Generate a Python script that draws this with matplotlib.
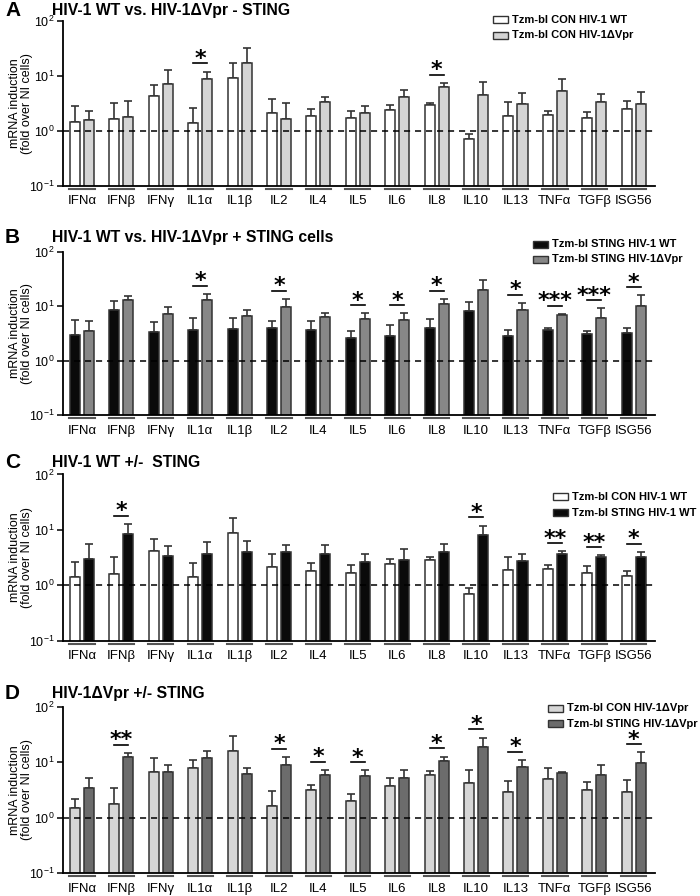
import numpy as np
import matplotlib.pyplot as plt
import matplotlib.transforms as mtransforms
from matplotlib.patches import Rectangle
from matplotlib.ticker import LogLocator, NullLocator

plt.rcParams['font.family'] = ['Liberation Sans Narrow', 'Liberation Sans', 'DejaVu Sans']
plt.rcParams['mathtext.default'] = 'regular'

genes = ['IFNα', 'IFNβ', 'IFNγ', 'IL1α', 'IL1β', 'IL2', 'IL4', 'IL5', 'IL6',
         'IL8', 'IL10', 'IL13', 'TNFα', 'TGFβ', 'ISG56']

# A : HIV-1 WT vs dVpr in control cells
a_con_wt = [1.42, 1.6, 4.2, 1.38, 8.9, 2.1, 1.85, 1.68, 2.4, 2.89, 0.7, 1.87, 1.95, 1.68, 2.44]
a_con_wt_top = [2.77, 3.23, 6.86, 2.58, 16.7, 3.7, 2.48, 2.31, 2.97, 3.23, 0.88, 3.3, 2.3, 2.15, 3.4]
a_con_dvpr = [1.58, 1.8, 7.05, 8.6, 17.2, 1.65, 3.32, 2.1, 4.04, 6.2, 4.45, 3.1, 5.3, 3.3, 3.0]
a_con_dvpr_top = [2.28, 3.5, 12.9, 11.8, 32.3, 3.14, 4.15, 2.8, 5.56, 7.35, 7.67, 4.8, 8.6, 4.6, 5.0]
a_sig = ['', '', '', '*', '', '', '', '', '', '*', '', '', '', '', '']

# B : HIV-1 WT vs dVpr in STING cells
b_sting_wt = [2.95, 8.4, 3.3, 3.65, 3.9, 4.0, 3.6, 2.6, 2.9, 4.0, 8.2, 2.85, 3.7, 3.15, 3.25]
b_sting_wt_top = [5.5, 12.7, 5.2, 6.2, 6.2, 5.3, 5.35, 3.55, 4.45, 5.75, 12.0, 3.7, 4.05, 3.5, 4.0]
b_sting_dvpr = [3.55, 12.9, 7.1, 12.9, 6.5, 9.7, 6.25, 5.9, 5.5, 11.2, 20.4, 8.7, 6.9, 6.1, 10.2]
b_sting_dvpr_top = [5.35, 15.8, 9.7, 16.9, 8.4, 13.7, 7.6, 7.4, 7.5, 13.7, 30.3, 11.6, 7.3, 9.2, 16.0]
b_sig = ['', '', '', '*', '', '*', '', '*', '*', '*', '', '*', '***', '***', '*']

# C : HIV-1 WT +/- STING
c_con_wt = [1.43, 1.6, 4.2, 1.41, 8.7, 2.1, 1.84, 1.67, 2.4, 2.87, 0.71, 1.85, 1.97, 1.67, 1.45]
c_con_wt_top = [2.67, 3.25, 6.9, 2.57, 16.5, 3.7, 2.5, 2.3, 3.0, 3.25, 0.9, 3.3, 2.3, 2.2, 1.8]
c_sting_wt = [3.0, 8.5, 3.33, 3.7, 3.95, 4.06, 3.6, 2.6, 2.87, 4.0, 8.0, 2.8, 3.65, 3.2, 3.27]
c_sting_wt_top = [5.5, 12.8, 5.1, 6.15, 6.2, 5.3, 5.35, 3.6, 4.47, 5.66, 12.0, 3.7, 4.1, 3.5, 4.0]
c_sig = ['', '*', '', '', '', '', '', '', '', '', '*', '', '**', '**', '*']

# D : HIV-1 dVpr +/- STING
d_con_dvpr = [1.53, 1.74, 6.6, 8.0, 16.2, 1.6, 3.14, 2.02, 3.8, 5.84, 4.25, 2.95, 5.0, 3.1, 2.9]
d_con_dvpr_top = [2.2, 3.4, 11.8, 11.0, 30.0, 3.0, 3.97, 2.66, 5.2, 7.0, 7.3, 4.5, 8.0, 4.4, 4.8]
d_sting_dvpr = [3.37, 12.3, 6.8, 12.1, 6.2, 9.1, 5.84, 5.6, 5.2, 10.4, 18.6, 8.2, 6.5, 5.8, 9.7]
d_sting_dvpr_top = [5.1, 14.7, 9.1, 15.8, 7.9, 12.5, 7.2, 7.1, 7.1, 12.6, 27.7, 11.0, 6.8, 8.8, 15.0]
d_sig = ['', '**', '', '', '', '*', '*', '*', '', '*', '*', '*', '', '', '*']

W, H = 700, 896
fig = plt.figure(figsize=(7, 8.96), dpi=100)

panels = [
    dict(letter='A', title='HIV-1 WT vs. HIV-1ΔVpr - STING', top=20.7, bot=185.7, ty=10,
         s1=(a_con_wt, a_con_wt_top, 'white', 'Tzm-bl CON HIV-1 WT'),
         s2=(a_con_dvpr, a_con_dvpr_top, '#d4d4d4', 'Tzm-bl CON HIV-1ΔVpr'),
         sig=a_sig, leg=(493, 20)),
    dict(letter='B', title='HIV-1 WT vs. HIV-1ΔVpr + STING cells', top=252, bot=415, ty=237,
         s1=(b_sting_wt, b_sting_wt_top, '#0a0a0a', 'Tzm-bl STING HIV-1 WT'),
         s2=(b_sting_dvpr, b_sting_dvpr_top, '#878787', 'Tzm-bl STING HIV-1ΔVpr'),
         sig=b_sig, leg=(533, 244)),
    dict(letter='C', title='HIV-1 WT +/-  STING', top=474.5, bot=640.7, ty=462,
         s1=(c_con_wt, c_con_wt_top, 'white', 'Tzm-bl CON HIV-1 WT'),
         s2=(c_sting_wt, c_sting_wt_top, '#0a0a0a', 'Tzm-bl STING HIV-1 WT'),
         sig=c_sig, leg=(553, 497)),
    dict(letter='D', title='HIV-1ΔVpr +/- STING', top=706.7, bot=873.3, ty=693,
         s1=(d_con_dvpr, d_con_dvpr_top, '#d6d6d6', 'Tzm-bl CON HIV-1ΔVpr'),
         s2=(d_sting_dvpr, d_sting_dvpr_top, '#6c6c6c', 'Tzm-bl STING HIV-1ΔVpr'),
         sig=d_sig, leg=(548, 708)),
]

x = np.arange(len(genes))
off, bw = 0.178, 0.255
edge = '#333333'

for p in panels:
    ax = fig.add_axes([63 / W, 1 - p['bot'] / H, (655 - 63) / W, (p['bot'] - p['top']) / H])
    for sgn, (vals, tops, col, lab) in ((-1, p['s1']), (1, p['s2'])):
        vals = np.array(vals)
        err = np.array(tops) - vals
        ax.bar(x + sgn * off, vals, bw, color=col, edgecolor=edge, linewidth=1.1, zorder=2,
               yerr=[np.zeros_like(err), err], capsize=2.8,
               error_kw=dict(ecolor=edge, elinewidth=1.2, capthick=1.2, zorder=1))
    ax.set_yscale('log')
    ax.set_ylim(0.1, 100)
    ax.set_xlim(-0.48, 14.54)
    ax.yaxis.set_major_locator(LogLocator(base=10, numticks=5))
    ax.yaxis.set_minor_locator(NullLocator())
    ax.axhline(1, color='black', ls=(0, (4, 3.2)), lw=1.1, zorder=3)
    for sp in ('top', 'right'):
        ax.spines[sp].set_visible(False)
    for sp in ('left', 'bottom'):
        ax.spines[sp].set_linewidth(1.3)
    ax.set_xticks(x)
    ax.set_xticklabels(genes, fontsize=9.5)
    ax.tick_params(axis='x', length=0, pad=7)
    ax.tick_params(axis='y', labelsize=9, length=4, width=1.1, pad=2)
    ax.set_ylabel('mRNA induction\n(fold over NI cells)', fontsize=9, linespacing=1.05)
    ax.yaxis.set_label_coords(-0.05, 0.5)

    # group underlines
    trans = mtransforms.blended_transform_factory(ax.transData, ax.transAxes)
    for xi in x:
        ax.plot([xi - 0.32, xi + 0.32], [-0.018, -0.018], transform=trans, color='#555555',
                lw=1.5, clip_on=False)

    # significance bars
    for i, s in enumerate(p['sig']):
        if not s:
            continue
        ytop = max(p['s1'][1][i], p['s2'][1][i]) * 10 ** 0.15
        ax.plot([i - off, i + off], [ytop, ytop], color='black', lw=1.2)
        ax.text(i, ytop * 10 ** -0.03, s, ha='center', va='baseline', fontsize=16,
                fontweight='bold', family='DejaVu Sans')

    # panel letter and title
    fig.text(5 / W, 1 - p['ty'] / H, p['letter'], fontsize=15, fontweight='bold', va='center',
             family=['Liberation Sans', 'DejaVu Sans'])
    fig.text(52 / W, 1 - p['ty'] / H, p['title'], fontsize=11.3, fontweight='bold', va='center')

    # legend
    lx, ly = p['leg']
    for k, (vals, tops, col, lab) in enumerate((p['s1'], p['s2'])):
        yy = ly + k * 15.5
        fig.patches.append(Rectangle((lx / W, 1 - (yy + 3.5) / H), 15 / W, 7 / H,
                                     transform=fig.transFigure, facecolor=col,
                                     edgecolor=edge, linewidth=1.0))
        fig.text((lx + 19) / W, 1 - yy / H, lab, fontsize=8, fontweight='bold', va='center')

fig.savefig('out.png', dpi=100)
